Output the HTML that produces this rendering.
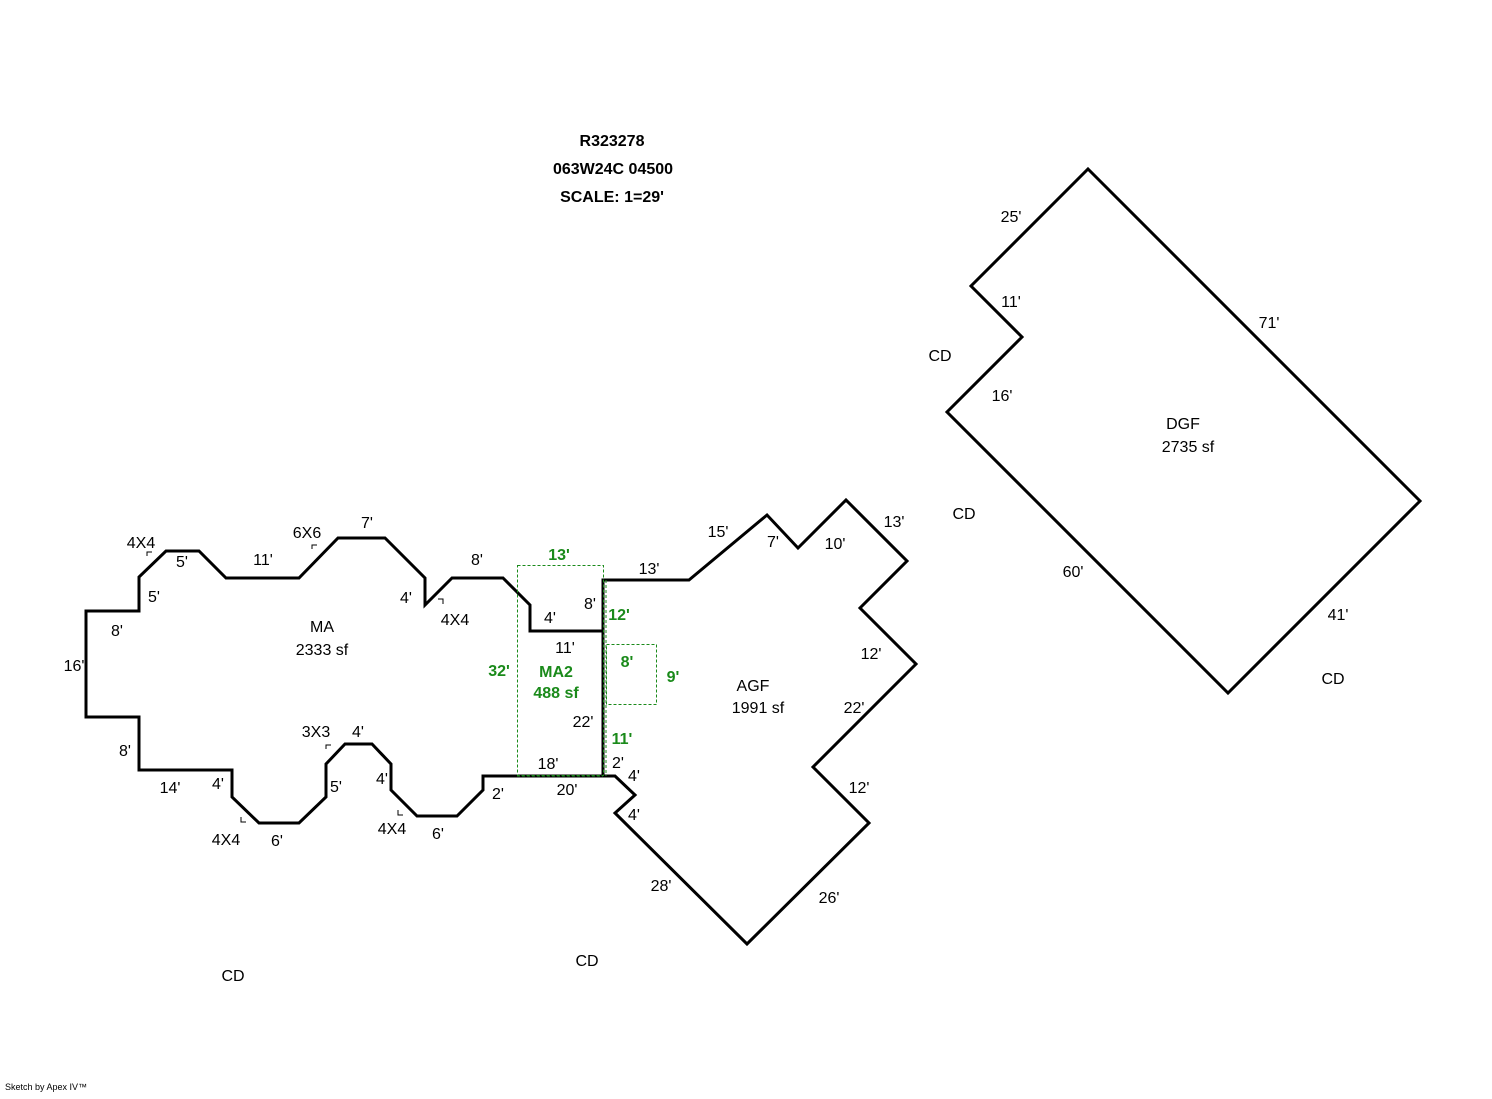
<!DOCTYPE html>
<html><head><style>
body{margin:0;background:#fff;}
svg text{font-family:"Liberation Sans",Arial,sans-serif;font-size:16px;fill:#000;}
.g{fill:#1a8a1a !important;font-weight:bold;}
.b{font-weight:bold;}
</style></head><body>
<svg width="1492" height="1094" viewBox="0 0 1492 1094" xmlns="http://www.w3.org/2000/svg">
<g fill="none" stroke="#000" stroke-width="3" stroke-linejoin="miter">
<polyline points="603,631 530,631 530,605 503,578 452,578 425,605 425,578 385,538 338,538 299,578 226,578 199,551 166,551 139,577 139,611 86,611 86,717 139,717 139,770 232,770 232,797 259,823 299,823 326,797 326,764 345,744 372,744 391,764 391,790 417,816 457,816 483,790 483,776 615,776 635,795 615,813 747,944 869,823 813,767 916,664 860,608 907,561 846,500 798,548 767,515 689,580 603,580 603,776"/>
<polygon points="1088,169 1420,501 1228,693 947,412 1022,337 971,286"/>
</g>
<g fill="none" stroke="#1a8a1a" stroke-width="1" stroke-dasharray="3,2">
<rect x="517.5" y="565.5" width="86" height="210"/>
<rect x="606.5" y="644.5" width="50" height="60"/>
<line x1="517" y1="776" x2="603" y2="776"/>
<line x1="606" y1="580" x2="606" y2="776"/>
</g>
<g fill="none" stroke="#000" stroke-width="1">
<polyline points="147,556 147,552 152,552"/><polyline points="312,549 312,545 317,545"/>
<polyline points="438,599 443,599 443,604"/><polyline points="326,749 326,745 331,745"/>
<polyline points="241,817 241,822 246,822"/><polyline points="398,810 398,815 403,815"/>
</g>
<g text-anchor="middle">
<text x="612" y="146" class="b">R323278</text>
<text x="613" y="174" class="b">063W24C 04500</text>
<text x="612" y="202" class="b">SCALE: 1=29'</text>
<text x="141" y="548">4X4</text><text x="182" y="567">5'</text><text x="263" y="565">11'</text>
<text x="307" y="538">6X6</text><text x="367" y="528">7'</text><text x="477" y="565">8'</text>
<text x="154" y="602">5'</text><text x="406" y="603">4'</text><text x="455" y="625">4X4</text>
<text x="117" y="636">8'</text><text x="74" y="671">16'</text>
<text x="322" y="632">MA</text><text x="322" y="655">2333 sf</text>
<text x="125" y="756">8'</text><text x="170" y="793">14'</text><text x="218" y="789">4'</text>
<text x="316" y="737">3X3</text><text x="358" y="737">4'</text><text x="336" y="792">5'</text>
<text x="382" y="784">4'</text><text x="226" y="845">4X4</text><text x="277" y="846">6'</text>
<text x="392" y="834">4X4</text><text x="438" y="839">6'</text><text x="498" y="799">2'</text>
<text x="550" y="623">4'</text><text x="590" y="609">8'</text><text x="565" y="653">11'</text>
<text x="583" y="727">22'</text><text x="548" y="769">18'</text><text x="567" y="795">20'</text>
<text x="618" y="768">2'</text><text x="634" y="781">4'</text><text x="634" y="820">4'</text>
<text x="559" y="560" class="g">13'</text><text x="619" y="620" class="g">12'</text>
<text x="499" y="676" class="g">32'</text><text x="556" y="677" class="g">MA2</text>
<text x="556" y="698" class="g">488 sf</text><text x="627" y="667" class="g">8'</text>
<text x="673" y="682" class="g">9'</text><text x="622" y="744" class="g">11'</text>
<text x="649" y="574">13'</text><text x="718" y="537">15'</text><text x="773" y="547">7'</text>
<text x="835" y="549">10'</text><text x="894" y="527">13'</text><text x="871" y="659">12'</text>
<text x="854" y="713">22'</text><text x="859" y="793">12'</text><text x="829" y="903">26'</text>
<text x="661" y="891">28'</text><text x="753" y="691">AGF</text><text x="758" y="713">1991 sf</text>
<text x="1011" y="222">25'</text><text x="1011" y="307">11'</text><text x="1269" y="328">71'</text>
<text x="940" y="361">CD</text><text x="1002" y="401">16'</text><text x="1183" y="429">DGF</text>
<text x="1188" y="452">2735 sf</text><text x="964" y="519">CD</text><text x="1073" y="577">60'</text>
<text x="1338" y="620">41'</text><text x="1333" y="684">CD</text>
<text x="233" y="981">CD</text><text x="587" y="966">CD</text>
</g>
<text x="5" y="1090" style="font-size:9px">Sketch by Apex IV™</text>
</svg>
</body></html>
